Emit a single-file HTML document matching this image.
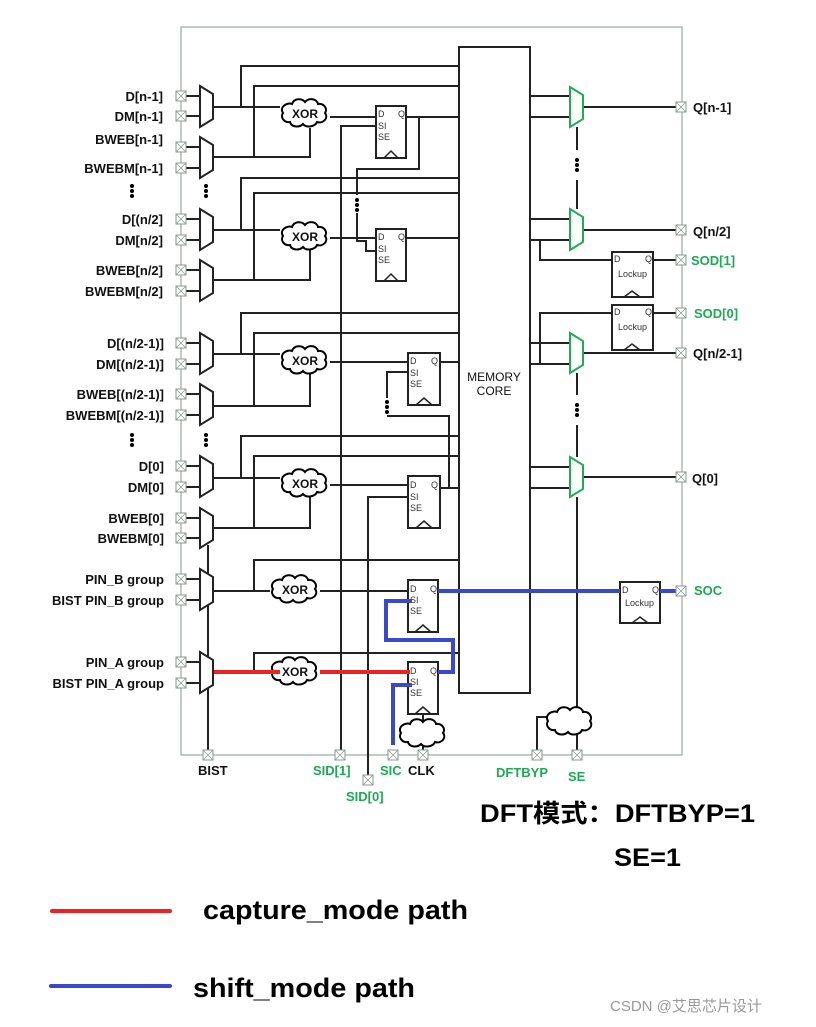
<!DOCTYPE html>
<html><head><meta charset="utf-8"><style>
html,body{margin:0;padding:0;background:#fff}
svg{display:block}
.l{font:bold 13px "Liberation Sans",sans-serif;fill:#111}
.g{font:bold 13px "Liberation Sans",sans-serif;fill:#1fa855}
.s{font:9px "Liberation Sans",sans-serif;fill:#333}
.x{font:bold 12px "Liberation Sans",sans-serif;fill:#111}
.big{font-family:"Liberation Sans","Noto Sans CJK SC",sans-serif;font-weight:bold;fill:#000}
</style></head><body>
<svg width="816" height="1027" viewBox="0 0 816 1027" xmlns="http://www.w3.org/2000/svg">
<defs>
<g id="pin"><rect x="-5" y="-5" width="10" height="10" fill="#fff" stroke="#8a9a90" stroke-width="1"/><path d="M-5-5L5 5M5-5L-5 5" stroke="#8a9a90" stroke-width="0.8"/></g>
<g id="cloud"><path d="M-22 0c-4-6 4-11 9-9c2-6 10-6 13-2c4-5 12-3 13 2c6-1 10 5 7 9c4 5-2 11-8 9c-2 5-11 6-14 2c-4 4-12 3-13-2c-6 1-10-5-7-9z" fill="#fff" stroke="#000" stroke-width="2"/></g>
</defs>
<!-- outer box -->
<rect x="181" y="27" width="501" height="728" fill="none" stroke="#9aaba0" stroke-width="1.2"/>
<!-- memory core -->
<rect x="459" y="47" width="71" height="646" fill="#fff" stroke="#222" stroke-width="2"/>
<text class="x" style="font-weight:normal" x="494" y="381" text-anchor="middle">MEMORY</text>
<text class="x" style="font-weight:normal" x="494" y="395" text-anchor="middle">CORE</text>

<g stroke="#222" stroke-width="2" fill="none">
<!-- pin stubs left -->
<path d="M186 96H200M186 116H200M186 147H200M186 168H200M186 219H200M186 240H200M186 270H200M186 291H200M186 343H200M186 364H200M186 394H200M186 415H200M186 466H200M186 487H200M186 518H200M186 538H200M186 579H200M186 600H200M186 662H200M186 683H200"/>
<!-- BIST vertical -->
<path d="M208 545V750"/>
<!-- G1 -->
<path d="M213 107H280M241 107V66H459M213 157H310V128M254 157V86H459M330 117H376M406 117H459M419 117V169H357V195M357 213V241H366V251H376M341 755V126H376"/>
<!-- G2 -->
<path d="M213 230H280M241 230V178H459M213 280H310V250M254 280V193H459M330 238H376M406 238H459"/>
<!-- G3 -->
<path d="M213 354H280M241 354V313H459M213 406H310V373M254 406V333H459M330 362H408M440 362H459M408 372H387V398M387 416H449V488"/>
<!-- G4 -->
<path d="M213 478H280M241 478V436H459M213 528H310V497M254 528V456H459M330 485H408M440 488H459M368 778V497H408"/>
<!-- G5 -->
<path d="M213 591H270M254 591V560H459M320 591H408"/>
<!-- G6 -->
<path d="M254 672V653H459M423 714V755"/>
<!-- right side -->
<path d="M530 96H570M530 117H570M583 107H676M530 219H570M530 240H570M583 230H676M540 240V260H612M653 260H676M530 364H570M540 364V313H612M653 313H676M530 343H570M583 353H676M530 467H570M530 488H570M583 477H676M660 591H676"/>
<path d="M577 127V150M577 180V209M577 373V395M577 425V457M577 497V750M537 750V717H555"/>
</g>
<!-- dots -->
<g fill="#000">
<circle cx="206" cy="186" r="2"/><circle cx="206" cy="191" r="2"/><circle cx="206" cy="196" r="2"/>
<circle cx="132" cy="186" r="2"/><circle cx="132" cy="191" r="2"/><circle cx="132" cy="196" r="2"/>
<circle cx="206" cy="435" r="2"/><circle cx="206" cy="440" r="2"/><circle cx="206" cy="445" r="2"/>
<circle cx="132" cy="435" r="2"/><circle cx="132" cy="440" r="2"/><circle cx="132" cy="445" r="2"/>
<circle cx="357" cy="200" r="2"/><circle cx="357" cy="205" r="2"/><circle cx="357" cy="210" r="2"/>
<circle cx="387" cy="402" r="2"/><circle cx="387" cy="407" r="2"/><circle cx="387" cy="412" r="2"/>
<circle cx="577" cy="160" r="2"/><circle cx="577" cy="165" r="2"/><circle cx="577" cy="170" r="2"/>
<circle cx="577" cy="405" r="2"/><circle cx="577" cy="410" r="2"/><circle cx="577" cy="415" r="2"/>
</g>
<!-- left muxes -->
<g fill="#fff" stroke="#222" stroke-width="2">
<polygon points="200,86 213,94 213,119 200,127"/>
<polygon points="200,137 213,145 213,170 200,178"/>
<polygon points="200,209 213,217 213,242 200,250"/>
<polygon points="200,260 213,268 213,293 200,301"/>
<polygon points="200,333 213,341 213,366 200,374"/>
<polygon points="200,384 213,392 213,417 200,425"/>
<polygon points="200,456 213,464 213,489 200,497"/>
<polygon points="200,508 213,516 213,540 200,548"/>
<polygon points="200,569 213,577 213,602 200,610"/>
<polygon points="200,652 213,660 213,685 200,693"/>
</g>
<!-- right muxes -->
<g fill="#fff" stroke="#22aa55" stroke-width="2">
<polygon points="570,87 583,95 583,119 570,127"/>
<polygon points="570,209 583,217 583,242 570,250"/>
<polygon points="570,333 583,341 583,365 570,373"/>
<polygon points="570,457 583,465 583,489 570,497"/>
</g>
<!-- clouds -->
<use href="#cloud" x="305" y="113"/><use href="#cloud" x="305" y="236"/>
<use href="#cloud" x="305" y="360"/><use href="#cloud" x="305" y="483"/>
<use href="#cloud" x="295" y="589"/><use href="#cloud" x="295" y="671"/>
<use href="#cloud" x="423" y="733"/><use href="#cloud" x="570" y="721"/>
<g class="x"><text x="305" y="118" text-anchor="middle">XOR</text><text x="305" y="241" text-anchor="middle">XOR</text><text x="305" y="365" text-anchor="middle">XOR</text><text x="305" y="488" text-anchor="middle">XOR</text><text x="295" y="594" text-anchor="middle">XOR</text><text x="295" y="676" text-anchor="middle">XOR</text></g>
<!-- flip flops -->
<g fill="#fff" stroke="#222" stroke-width="2">
<rect x="376" y="106" width="30" height="52"/><rect x="376" y="229" width="30" height="52"/>
<rect x="408" y="353" width="32" height="52"/><rect x="408" y="476" width="32" height="52"/>
<rect x="408" y="580" width="30" height="52"/><rect x="408" y="662" width="30" height="52"/>
<rect x="612" y="252" width="41" height="45"/><rect x="612" y="305" width="41" height="45"/>
<rect x="620" y="582" width="40" height="41"/>
</g>
<g fill="none" stroke="#222" stroke-width="1.5">
<path d="M384 158l7-7 7 7M384 281l7-7 7 7M416 405l8-7 8 7M416 528l8-7 8 7M415 632l8-7 8 7M415 714l8-7 8 7M624 297l8-6 8 6M624 350l8-6 8 6M632 623l8-6 8 6"/>
</g>
<g class="s">
<text x="378" y="117">D</text><text x="398" y="117">Q</text><text x="378" y="129">SI</text><text x="378" y="140">SE</text>
<text x="378" y="240">D</text><text x="398" y="240">Q</text><text x="378" y="252">SI</text><text x="378" y="263">SE</text>
<text x="410" y="364">D</text><text x="431" y="364">Q</text><text x="410" y="376">SI</text><text x="410" y="387">SE</text>
<text x="410" y="488">D</text><text x="431" y="488">Q</text><text x="410" y="500">SI</text><text x="410" y="511">SE</text>
<text x="410" y="592">D</text><text x="430" y="592">Q</text><text x="410" y="603">SI</text><text x="410" y="614">SE</text>
<text x="410" y="674">D</text><text x="430" y="674">Q</text><text x="410" y="685">SI</text><text x="410" y="696">SE</text>
<text x="614" y="262">D</text><text x="645" y="262">Q</text><text x="618" y="277">Lockup</text>
<text x="614" y="315">D</text><text x="645" y="315">Q</text><text x="618" y="330">Lockup</text>
<text x="622" y="593">D</text><text x="652" y="593">Q</text><text x="625" y="606">Lockup</text>
</g>
<!-- colored paths -->
<path d="M214 672H280M320 672H410" stroke="#ee2222" stroke-width="4" fill="none"/>
<path d="M393 745V685H412M438 672H453V640H386V601H412M438 591H620M660 591H680" stroke="#3a48cc" stroke-width="4" fill="none"/>
<!-- pins -->
<g>
<use href="#pin" x="181" y="96"/><use href="#pin" x="181" y="116"/><use href="#pin" x="181" y="147"/><use href="#pin" x="181" y="168"/>
<use href="#pin" x="181" y="219"/><use href="#pin" x="181" y="240"/><use href="#pin" x="181" y="270"/><use href="#pin" x="181" y="291"/>
<use href="#pin" x="181" y="343"/><use href="#pin" x="181" y="364"/><use href="#pin" x="181" y="394"/><use href="#pin" x="181" y="415"/>
<use href="#pin" x="181" y="466"/><use href="#pin" x="181" y="487"/><use href="#pin" x="181" y="518"/><use href="#pin" x="181" y="538"/>
<use href="#pin" x="181" y="579"/><use href="#pin" x="181" y="600"/><use href="#pin" x="181" y="662"/><use href="#pin" x="181" y="683"/>
<use href="#pin" x="681" y="107"/><use href="#pin" x="681" y="230"/><use href="#pin" x="681" y="260"/><use href="#pin" x="681" y="313"/>
<use href="#pin" x="681" y="353"/><use href="#pin" x="681" y="477"/><use href="#pin" x="681" y="591"/>
<use href="#pin" x="208" y="755"/><use href="#pin" x="340" y="755"/><use href="#pin" x="393" y="755"/><use href="#pin" x="423" y="755"/>
<use href="#pin" x="537" y="755"/><use href="#pin" x="577" y="755"/><use href="#pin" x="368" y="780"/>
</g>
<!-- left labels -->
<g class="l" text-anchor="end">
<text x="163" y="101">D[n-1]</text><text x="163" y="121">DM[n-1]</text><text x="163" y="144">BWEB[n-1]</text><text x="163" y="173">BWEBM[n-1]</text>
<text x="163" y="224">D[(n/2]</text><text x="163" y="245">DM[n/2]</text><text x="163" y="275">BWEB[n/2]</text><text x="163" y="296">BWEBM[n/2]</text>
<text x="164" y="348">D[(n/2-1)]</text><text x="164" y="369">DM[(n/2-1)]</text><text x="164" y="399">BWEB[(n/2-1)]</text><text x="164" y="420">BWEBM[(n/2-1)]</text>
<text x="164" y="471">D[0]</text><text x="164" y="492">DM[0]</text><text x="164" y="523">BWEB[0]</text><text x="164" y="543">BWEBM[0]</text>
<text x="164" y="584">PIN_B group</text><text x="164" y="605">BIST PIN_B group</text><text x="164" y="667">PIN_A group</text><text x="164" y="688">BIST PIN_A group</text>
</g>
<g class="l"><text x="693" y="112">Q[n-1]</text><text x="693" y="236">Q[n/2]</text><text x="693" y="358">Q[n/2-1]</text><text x="692" y="483">Q[0]</text><text x="198" y="775">BIST</text><text x="408" y="775">CLK</text></g>
<g class="g"><text x="691" y="265">SOD[1]</text><text x="694" y="318">SOD[0]</text><text x="694" y="595">SOC</text>
<text x="313" y="775">SID[1]</text><text x="380" y="775">SIC</text><text x="496" y="777">DFTBYP</text><text x="568" y="781">SE</text><text x="346" y="801">SID[0]</text></g>
<!-- bottom text -->
<text class="big" x="480" y="822" font-size="25" textLength="275" lengthAdjust="spacingAndGlyphs">DFT模式：DFTBYP=1</text>
<text class="big" x="614" y="866" font-size="25" textLength="67" lengthAdjust="spacingAndGlyphs">SE=1</text>
<path d="M52 911H170" stroke="#ee2222" stroke-width="4" stroke-linecap="round"/>
<path d="M51 986H170" stroke="#3a48cc" stroke-width="4" stroke-linecap="round"/>
<text class="big" x="203" y="919" font-size="27" textLength="265" lengthAdjust="spacingAndGlyphs">capture_mode path</text>
<text class="big" x="193" y="997" font-size="27" textLength="222" lengthAdjust="spacingAndGlyphs">shift_mode path</text>
<text x="610" y="1011" font-family="Liberation Sans,Noto Sans CJK SC,sans-serif" font-size="15" fill="#999">CSDN @艾思芯片设计</text>
</svg>
</body></html>
